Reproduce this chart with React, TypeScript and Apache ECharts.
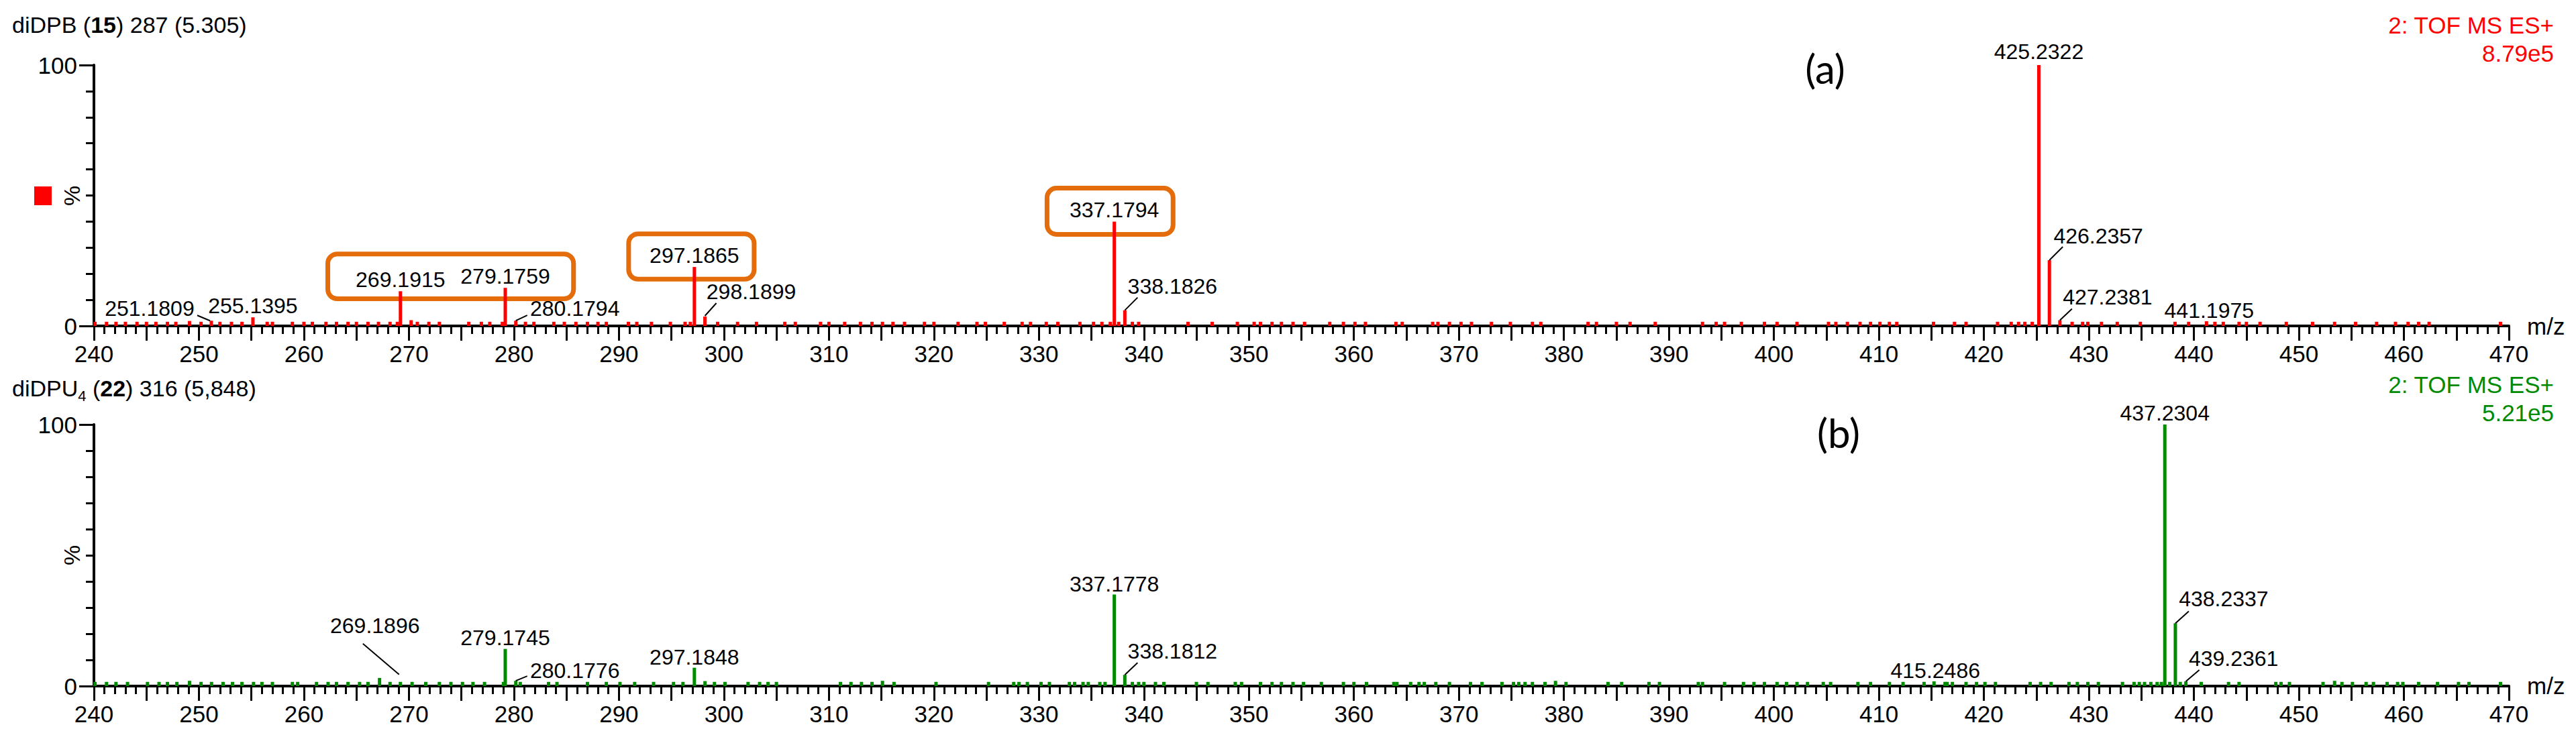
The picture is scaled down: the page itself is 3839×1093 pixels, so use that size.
import React, { useEffect, useRef } from 'react';
import * as echarts from 'echarts';

// ---------- axis definitions ----------
const MZ_MIN = 240;
const MZ_MAX = 470;
const xTickLabels = [240, 250, 260, 270, 280, 290, 300, 310, 320, 330, 340, 350, 360, 370, 380, 390, 400, 410, 420, 430, 440, 450, 460, 470];
const yTickLabels = [0, 100];

// ---------- panel (a): diDPB ----------
const aTitle = 'diDPB ({b|15}) 287 (5.305)';
const aMode = '2: TOF MS ES+';
const aScale = '8.79e5';
const aPeakMz = [251.1809, 255.1395, 269.1915, 270.21, 279.1759, 280.1794, 297.1865, 298.1899, 337.1794, 338.1826, 425.2322, 426.2357, 427.2381, 441.1975];
const aPeakPct = [2.0, 3.3, 13.3, 2.2, 14.6, 2.0, 22.6, 3.6, 40.0, 6.0, 100, 25.2, 2.2, 1.8];
const aLabeledMz = [251.1809, 255.1395, 269.1915, 279.1759, 280.1794, 297.1865, 298.1899, 337.1794, 338.1826, 425.2322, 426.2357, 427.2381, 441.1975];
const aNoise: [number, number][] = [
  [240.1, 1.6], [241.2, 1.6], [242.1, 1.6], [243.0, 1.6], [244.1, 1.6], [245.0, 1.6], [245.9, 1.6], [247.0, 1.6], [247.8, 1.6], [249.1, 1.9],
  [250.2, 1.6], [252.0, 1.6], [253.1, 1.6], [254.1, 1.6], [256.5, 1.6], [257.0, 1.6], [258.9, 1.6], [260.0, 1.6], [260.8, 1.6], [262.1, 1.6],
  [263.1, 1.6], [264.2, 1.6], [265.0, 1.6], [266.1, 1.6], [267.1, 1.6], [268.2, 1.6], [268.9, 1.6], [270.8, 1.6], [271.9, 1.6], [272.9, 1.6],
  [275.7, 1.6], [276.9, 1.6], [277.7, 1.6], [278.9, 1.6], [281.1, 1.6], [281.9, 1.6], [283.8, 1.6], [284.8, 1.6], [285.9, 1.6], [287.0, 1.6],
  [288.0, 1.6], [288.8, 1.6], [290.9, 1.6], [291.7, 1.6], [293.1, 1.6], [294.9, 1.6], [296.3, 1.6], [296.8, 1.6], [299.4, 1.6], [301.3, 1.6],
  [303.1, 1.6], [305.8, 1.6], [306.8, 1.6], [309.2, 1.6], [310.0, 1.6], [311.5, 1.6], [313.0, 1.6], [314.1, 1.6], [315.1, 1.6], [316.1, 1.6],
  [317.2, 1.6], [319.1, 1.6], [320.0, 1.6], [322.3, 1.6], [324.1, 1.6], [324.9, 1.6], [326.7, 1.6], [328.4, 1.6], [329.2, 1.6], [330.7, 1.6],
  [331.8, 1.6], [333.9, 1.6], [335.2, 1.6], [336.0, 1.6], [336.8, 1.6], [337.6, 1.6], [338.9, 1.6], [339.5, 1.6], [344.2, 1.6], [346.5, 1.6],
  [348.9, 1.6], [350.5, 1.6], [351.1, 1.6], [352.2, 1.6], [353.1, 1.6], [354.2, 1.6], [355.3, 1.6], [357.7, 1.6], [359.0, 1.6], [360.1, 1.6],
  [361.1, 1.6], [364.0, 1.6], [364.6, 1.6], [367.5, 1.6], [368.0, 1.6], [369.1, 1.6], [370.2, 1.6], [371.2, 1.6], [373.1, 1.6], [374.9, 1.6],
  [377.0, 1.6], [377.8, 1.6], [382.3, 1.6], [383.1, 1.6], [385.0, 1.6], [386.3, 1.6], [388.7, 1.6], [393.2, 1.6], [394.5, 1.6], [395.3, 1.6],
  [396.9, 1.6], [399.1, 1.6], [400.3, 1.6], [402.2, 1.6], [405.2, 1.6], [405.9, 1.6], [407.0, 1.6], [408.2, 1.6], [409.2, 1.6], [410.1, 1.6],
  [411.0, 1.6], [411.7, 1.6], [415.2, 1.6], [417.2, 1.6], [418.3, 1.6], [421.3, 1.6], [422.6, 1.6], [423.3, 1.6], [423.9, 1.6], [424.6, 1.6],
  [428.4, 1.6], [429.4, 1.6], [429.9, 1.6], [431.2, 1.6], [432.7, 1.6], [434.9, 1.6], [438.2, 1.6], [439.5, 1.6], [442.0, 1.6], [442.8, 1.6],
  [444.3, 1.6], [445.0, 1.6], [446.3, 1.6], [448.8, 1.6], [451.3, 1.6], [453.4, 1.6], [455.4, 1.6], [457.4, 1.6], [459.2, 1.6], [460.4, 1.6],
  [461.4, 1.6], [462.4, 1.6], [469.2, 1.6],
];

// ---------- panel (b): diDPU4 ----------
const bTitle = 'diDPU{sub|4} ({b|22}) 316 (5,848)';
const bMode = '2: TOF MS ES+';
const bScale = '5.21e5';
const bPeakMz = [249.1, 267.2, 269.1896, 279.1745, 280.1776, 297.1848, 315.1, 337.1778, 338.1812, 379.2, 415.2486, 437.2304, 438.2337, 439.2361, 453.4];
const bPeakPct = [2.0, 3.1, 1.6, 14.2, 2.0, 7.0, 2.0, 35.0, 4.3, 2.0, 1.8, 100, 24.0, 1.8, 2.0];
const bLabeledMz = [269.1896, 279.1745, 280.1776, 297.1848, 337.1778, 338.1812, 415.2486, 437.2304, 438.2337, 439.2361];
const bNoise: [number, number][] = [
  [240.1, 1.6], [241.2, 1.6], [242.1, 1.6], [243.2, 1.6], [245.1, 1.6], [246.2, 1.6], [247.0, 1.6], [247.9, 1.6], [250.2, 1.6], [251.2, 1.6],
  [252.3, 1.6], [253.2, 1.6], [254.1, 1.6], [255.2, 1.6], [256.0, 1.6], [257.0, 1.6], [258.9, 1.6], [259.4, 1.6], [261.2, 1.6], [262.3, 1.6],
  [263.1, 1.6], [264.2, 1.6], [265.3, 1.6], [266.1, 1.6], [268.2, 1.6], [270.3, 1.6], [271.6, 1.6], [272.9, 1.6], [274.0, 1.6], [275.1, 1.6],
  [276.1, 1.6], [277.2, 1.6], [279.0, 1.6], [280.6, 1.6], [283.3, 1.6], [284.1, 1.6], [287.0, 1.6], [288.8, 1.6], [290.1, 1.6], [291.5, 1.6],
  [293.3, 1.6], [295.2, 1.6], [296.1, 1.6], [298.2, 1.9], [299.1, 1.6], [300.1, 1.6], [302.3, 1.6], [303.4, 1.6], [304.2, 1.6], [305.0, 1.6],
  [311.1, 1.6], [312.1, 1.6], [313.1, 1.6], [314.1, 1.6], [316.2, 1.6], [320.2, 1.6], [325.2, 1.6], [327.6, 1.6], [328.1, 1.6], [328.9, 1.6],
  [330.2, 1.6], [331.0, 1.6], [332.9, 1.6], [333.4, 1.6], [334.2, 1.6], [334.7, 1.6], [335.8, 1.6], [336.3, 1.6], [338.9, 1.6], [339.5, 1.6],
  [340.0, 1.6], [341.1, 1.6], [341.9, 1.6], [345.0, 1.6], [346.1, 1.6], [348.7, 1.6], [349.3, 1.6], [351.1, 1.6], [352.2, 1.6], [353.1, 1.6],
  [354.2, 1.6], [355.2, 1.6], [356.9, 1.6], [359.0, 1.6], [360.0, 1.6], [361.2, 1.6], [363.8, 1.6], [364.1, 1.6], [365.4, 1.6], [366.2, 1.6],
  [366.7, 1.6], [367.8, 1.6], [369.1, 1.6], [371.1, 1.6], [372.2, 1.6], [374.1, 1.6], [375.2, 1.6], [375.7, 1.6], [376.3, 1.6], [377.0, 1.6],
  [378.2, 1.6], [380.2, 1.6], [384.2, 1.6], [385.5, 1.6], [388.1, 1.6], [389.1, 1.6], [392.8, 1.6], [393.2, 1.6], [395.3, 1.6], [397.1, 1.6],
  [398.1, 1.6], [399.1, 1.6], [400.3, 1.6], [401.2, 1.6], [402.2, 1.6], [403.2, 1.6], [404.7, 1.6], [405.4, 1.6], [408.0, 1.6], [409.2, 1.6],
  [411.0, 1.6], [412.3, 1.6], [414.3, 1.6], [416.3, 1.6], [416.5, 1.6], [417.0, 1.6], [418.3, 1.6], [419.3, 1.6], [420.1, 1.6], [421.1, 1.6],
  [424.4, 1.6], [425.4, 1.6], [426.4, 1.6], [428.1, 1.6], [428.9, 1.6], [429.9, 1.6], [430.9, 1.6], [433.2, 1.6], [434.3, 1.6], [434.8, 1.6],
  [435.3, 1.6], [435.9, 1.6], [436.5, 1.6], [436.9, 1.6], [437.7, 1.6], [438.7, 1.6], [440.7, 1.6], [443.3, 1.6], [444.3, 1.6], [447.8, 1.6],
  [448.3, 1.6], [449.1, 1.6], [452.3, 1.6], [454.1, 1.6], [455.1, 1.6], [456.4, 1.6], [457.1, 1.6], [458.4, 1.6], [459.4, 1.6], [459.9, 1.6],
  [461.4, 1.6], [463.2, 1.6], [465.2, 1.6], [466.2, 1.6], [469.2, 1.6],
];

// ---------- annotation layout (pixel offsets of label centre from the peak top; optional leader line) ----------
type Lay = [number, number, number[]?];
const aLabelLayout: Lay[] = [
  [-92, -18, [-21, -8, -2, 0]],
  [0, -17],
  [0, -17],
  [0, -17],
  [88, -18, [17, -8, 0, 0]],
  [0, -17],
  [69, -37, [17, -20, 0, -1]],
  [0, -17],
  [71, -36, [19, -19, 0, 0]],
  [0, -20],
  [73, -36, [20, -20, 0, 0]],
  [71, -34, [18, -17, 0, 0]],
  [4, -16],
];
const bLabelLayout: Lay[] = [
  [-38, -84, [-56, -57, -2, -11]],
  [0, -17],
  [88, -15, [17, -7, 0, 0]],
  [0, -16],
  [0, -16],
  [71, -35, [19, -18, 0, 0]],
  [2, -16],
  [0, -17],
  [72, -36, [20, -18, 0, 0]],
  [71, -34, [20, -17, 0, 0]],
];
// highlight boxes in data coordinates of panel (a): [mzFrom, mzTo, pctLow, pctHigh]
const aBoxes = [
  [262.05, 285.9, 9.5, 28.5],
  [290.7, 303.1, 17.0, 36.2],
  [330.55, 343.0, 34.2, 53.7],
];

const RED = '#ff0000';
const GREEN = '#008a00';
const ORANGE = '#e46c0a';
const FONT = '"Liberation Sans", Arial, Helvetica, sans-serif';

function buildAxes(i: number) {
  const x = {
    type: 'value', gridIndex: i, min: MZ_MIN, max: MZ_MAX, interval: 5,
    axisLine: { show: true, onZero: false, lineStyle: { color: '#000', width: 4 } },
    axisTick: { show: true, length: 22, lineStyle: { color: '#000', width: 3 } },
    minorTick: { show: true, splitNumber: 5, length: 12, lineStyle: { color: '#000', width: 3 } },
    axisLabel: {
      fontSize: 35, color: '#000', fontFamily: FONT, margin: 24,
      formatter: (v: number) => (xTickLabels.includes(Math.round(v)) && Math.abs(v - Math.round(v)) < 1e-6 ? String(Math.round(v)) : ''),
    },
    splitLine: { show: false },
    minorSplitLine: { show: false },
  };
  const y = {
    type: 'value', gridIndex: i, min: 0, max: 100, interval: 100,
    axisLine: { show: true, onZero: false, lineStyle: { color: '#000', width: 4 } },
    axisTick: { show: true, length: 22, lineStyle: { color: '#000', width: 3 } },
    minorTick: { show: true, splitNumber: 10, length: 12, lineStyle: { color: '#000', width: 3 } },
    axisLabel: {
      fontSize: 35, color: '#000', fontFamily: FONT, margin: 25,
      formatter: (v: number) => (yTickLabels.includes(v) ? String(v) : ''),
    },
    splitLine: { show: false },
  };
  return { x, y };
}

function peakData(mz: number[], pct: number[], noise: [number, number][]) {
  const d: number[][] = noise.map((n) => [n[0], n[1]]);
  mz.forEach((m, k) => d.push([m, pct[k]]));
  d.sort((p, q) => p[0] - q[0]);
  return d;
}

export default function App() {
  const ref = useRef<HTMLDivElement>(null);
  useEffect(() => {
    if (!ref.current) return;
    const chart = echarts.init(ref.current, null, { renderer: 'svg' });
    const a = buildAxes(0);
    const b = buildAxes(1);
    chart.setOption({
      animation: false,
      backgroundColor: '#ffffff',
      textStyle: { fontFamily: FONT },
      grid: [
        { left: 140, right: 100, top: 97, height: 389 },
        { left: 140, right: 100, top: 633, height: 390 },
      ],
      xAxis: [a.x, b.x],
      yAxis: [a.y, b.y],
      series: [
        {
          type: 'bar', xAxisIndex: 0, yAxisIndex: 0, barWidth: 5, z: 3,
          itemStyle: { color: RED },
          data: peakData(aPeakMz, aPeakPct, aNoise),
        },
        {
          type: 'bar', xAxisIndex: 1, yAxisIndex: 1, barWidth: 5, z: 3,
          itemStyle: { color: GREEN },
          data: peakData(bPeakMz, bPeakPct, bNoise),
        },
      ],
    });

    const g: any[] = [];
    const panels = [
      { mz: aPeakMz, pct: aPeakPct, labels: aLabeledMz, lay: aLabelLayout },
      { mz: bPeakMz, pct: bPeakPct, labels: bLabeledMz, lay: bLabelLayout },
    ];
    panels.forEach((p, i) => {
      p.labels.forEach((m, k) => {
        const h = p.pct[p.mz.indexOf(m)];
        const pt = chart.convertToPixel({ xAxisIndex: i, yAxisIndex: i } as any, [m, h]) as number[];
        const [dx, dy, ld] = p.lay[k];
        g.push({
          type: 'text', x: pt[0] + dx, y: pt[1] + dy, z: 10,
          style: { text: m.toFixed(4), fontSize: 32, fontFamily: FONT, fill: '#000', align: 'center', verticalAlign: 'middle' },
        });
        if (ld) {
          g.push({
            type: 'line', z: 10,
            shape: { x1: pt[0] + ld[0], y1: pt[1] + ld[1], x2: pt[0] + ld[2], y2: pt[1] + ld[3] },
            style: { stroke: '#000', lineWidth: 2 },
          });
        }
      });
    });
    aBoxes.forEach((bx) => {
      const p1 = chart.convertToPixel({ xAxisIndex: 0, yAxisIndex: 0 } as any, [bx[0], bx[3]]) as number[];
      const p2 = chart.convertToPixel({ xAxisIndex: 0, yAxisIndex: 0 } as any, [bx[1], bx[2]]) as number[];
      const sw = 7;
      g.push({
        type: 'rect', z: 1,
        shape: { x: p1[0] + sw / 2, y: p1[1] + sw / 2, width: p2[0] - p1[0] - sw, height: p2[1] - p1[1] - sw, r: 14 },
        style: { fill: 'none', stroke: ORANGE, lineWidth: sw },
      });
    });

    // panel titles and corner annotations
    const titleStyle = (text: string, y: number) => ({
      type: 'text', x: 18, y, z: 10,
      style: {
        text, fontSize: 34, fontFamily: FONT, fill: '#000', align: 'left', verticalAlign: 'middle', lineHeight: 44,
        rich: {
          b: { fontSize: 34, fontWeight: 'bold', fontFamily: FONT, fill: '#000', lineHeight: 44 },
          sub: { fontSize: 22, fontFamily: FONT, fill: '#000', lineHeight: 18, verticalAlign: 'bottom' },
        },
      },
    });
    g.push(titleStyle(aTitle, 37));
    g.push(titleStyle(bTitle, 579));
    const corner = (text: string, y: number, color: string) => ({
      type: 'text', x: 3806, y, z: 10,
      style: { text, fontSize: 35, fontFamily: FONT, fill: color, align: 'right', verticalAlign: 'middle' },
    });
    g.push(corner(aMode, 37, RED));
    g.push(corner(aScale, 79, RED));
    g.push(corner(bMode, 573, GREEN));
    g.push(corner(bScale, 615, GREEN));
    const plain = (text: string, x: number, y: number, size: number, align: string, family = FONT, rot = 0) => ({
      type: 'text', x, y, z: 10, rotation: rot,
      style: { text, fontSize: size, fontFamily: family, fill: '#000', align, verticalAlign: 'middle' },
    });
    g.push(plain('m/z', 3766, 486, 35, 'left'));
    g.push(plain('m/z', 3766, 1022, 35, 'left'));
    g.push(plain('%', 107, 292, 34, 'center', FONT, Math.PI / 2));
    g.push(plain('%', 107, 828, 34, 'center', FONT, Math.PI / 2));
    g.push(plain('(a)', 2720, 102, 60, 'center', 'Lato, "Open Sans", sans-serif'));
    g.push(plain('(b)', 2740, 645, 60, 'center', 'Lato, "Open Sans", sans-serif'));
    g.push({ type: 'rect', z: 10, shape: { x: 51, y: 278, width: 26, height: 28 }, style: { fill: RED } });

    chart.setOption({ graphic: g });
    return () => chart.dispose();
  }, []);
  return <div ref={ref} style={{ position: 'fixed', left: 0, top: 0, width: 3839, height: 1093, background: '#fff' }} />;
}
